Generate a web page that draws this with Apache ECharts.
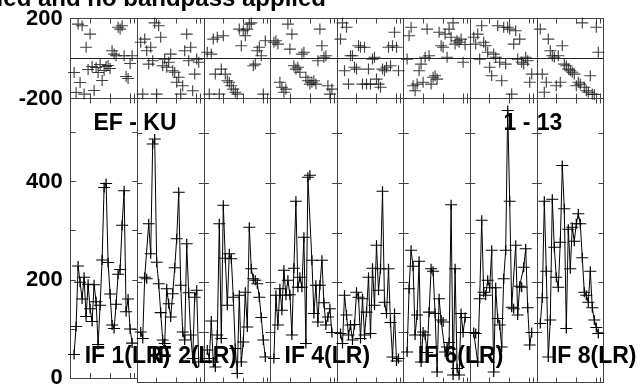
<!DOCTYPE html>
<html>
<head>
<meta charset="utf-8">
<script src="https://cdn.jsdelivr.net/npm/echarts@6/dist/echarts.min.js"></script>
<style>
  html, body { margin: 0; padding: 0; background: #fff; }
  #chart { width: 640px; height: 389px; }
</style>
</head>
<body>
<div id="chart"></div>
<script>
// channels plotted in every IF
const channels = [2, 3, 4, 5, 6, 7, 8, 9, 10, 11, 12, 13, 14, 15, 16, 17, 18, 19, 20, 21, 22, 23, 24, 25, 26, 27, 28, 29, 30, 31];
const ifNames = ['IF 1(LR)', 'IF 2(LR)', '', 'IF 4(LR)', '', 'IF 6(LR)', '', 'IF 8(LR)'];
const channelTicks = [10, 20, 30, 32];
const phaseLabels = [-200, 200];
const ampTicks = [0, 100, 200, 300, 400, 500];
const ampLabels = [0, 200, 400];

// amplitude per IF
const ampIF1 = [48, 105, 228, 195, 161, 205, 125, 191, 141, 115, 190, 155, 68, 148, 240, 388, 396, 235, 171, 108, 101, 150, 211, 221, 311, 381, 135, 161, 100, 71];
const ampIF2 = [101, 88, 211, 208, 318, 258, 478, 488, 241, 198, 140, 85, 78, 188, 158, 131, 178, 230, 288, 381, 195, 101, 85, 278, 180, 95, 48, 171, 185, 41];
const ampIF3 = [65, 48, 123, 41, 31, 95, 318, 88, 355, 249, 155, 258, 248, 171, 68, 18, 175, 41, 81, 181, 111, 311, 228, 208, 205, 198, 171, 130, 85, 51];
const ampIF4 = [48, 175, 115, 188, 145, 225, 175, 205, 176, 95, 229, 363, 191, 211, 191, 291, 78, 411, 415, 245, 138, 195, 121, 195, 245, 160, 115, 131, 148, 100];
const ampIF5 = [98, 78, 175, 135, 95, 115, 85, 116, 181, 171, 88, 168, 95, 141, 211, 98, 229, 155, 275, 185, 228, 383, 161, 138, 228, 120, 51, 138, 43, 48];
const ampIF6 = [61, 188, 265, 233, 95, 135, 243, 41, 101, 95, 60, 141, 228, 223, 138, 21, 168, 125, 121, 61, 71, 80, 356, 15, 228, 28, 15, 138, 100, 130];
const ampIF7 = [100, 98, 41, 168, 325, 181, 175, 205, 190, 265, 21, 190, 128, 115, 71, 208, 265, 545, 363, 151, 148, 275, 135, 193, 191, 231, 268, 150, 75, 100];
const ampIF8 = [118, 170, 363, 223, 51, 125, 367, 271, 211, 191, 281, 435, 348, 108, 307, 228, 311, 283, 318, 338, 318, 250, 181, 175, 161, 223, 150, 125, 110, 98];

// phase per IF (degrees)
const phIF1 = [-70, -170, 172, -120, 164, -178, 56, -55, 122, -40, -160, -45, -70, -30, -110, -60, -40, -35, -50, 39, 22, 14, 156, 147, 164, 14, -90, -100, -25, 14];
const phIF2 = [81, -178, 97, 39, -28, 56, -11, 178, -178, 164, 106, -36, -3, -44, -19, 22, -61, -69, -119, -94, -178, -136, 39, 122, -11, 56, -161, -78, -3, -19];
const phIF3 = [31, -178, 22, 97, -78, 106, -178, -53, 114, -78, -111, -119, -136, -153, -169, -178, 147, 64, 139, 114, 147, 172, 178, -36, -28, 39, 56, 14, -178, 89];
const phIF4 = [81, 89, 72, -119, -144, -169, -153, 172, 47, 122, -36, -53, -44, -69, 22, 31, -94, -111, -128, -119, -111, -128, -11, 147, 64, 6, 14, -136, -178, -153];
const phIF5 = [97, 178, -61, 156, -128, 14, 14, -44, -53, 64, 56, -128, 56, -128, -53, -128, -3, 6, -103, -128, -144, -53, -61, -44, 56, -36, 64, 131, 56, -61];
const phIF6 = [-3, 114, 156, -136, -161, -128, -61, -28, -119, 6, 147, 14, -128, -94, -86, -103, 131, 64, 56, 122, 6, 147, 106, 178, 72, 89, 81, 97, -19, 70];
const phIF7 = [106, 72, 122, -3, 164, 81, 64, 31, -44, -86, 22, 6, 164, -19, -111, 156, -28, 156, 147, -178, 72, 139, -3, 97, -19, -28, 6, -11, -119, -78];
const phIF8 = [147, -78, -169, -119, 97, 39, 14, 6, -136, 14, -119, 64, -28, -36, -53, -61, -69, -78, -136, -119, -128, 178, -144, -161, -169, -86, -178, -180, 156, 31];

const ampAll = [ampIF1, ampIF2, ampIF3, ampIF4, ampIF5, ampIF6, ampIF7, ampIF8];
const phAll = [phIF1, phIF2, phIF3, phIF4, phIF5, phIF6, phIF7, phIF8];

// layout
const plotLeft = 70.7, panelW = 66.6;
const phaseTop = 18.5, phaseH = 80;
const ampTop = 98.5, ampH = 284;
const frameColor = '#444';
const labelFont = { fontFamily: 'Liberation Sans', fontWeight: 'bold', fontSize: 22, color: '#000' };
const crossSymbol = 'path://M0,5L10,5M5,0L5,10';

const grids = [], xAxes = [], yAxes = [], series = [];

const xAx = (gridIndex, position) => ({
  type: 'value', gridIndex, position, min: 0.3, max: 33.6,
  axisLine: { show: true, onZero: false, lineStyle: { color: frameColor, width: 1 } },
  axisTick: { show: true, inside: true, length: 5, customValues: channelTicks, lineStyle: { color: frameColor } },
  axisLabel: { show: false },
  splitLine: { show: false }
});

for (let i = 0; i < 8; i++) {
  const left = plotLeft + i * panelW;
  // phase grid (2i) and amplitude grid (2i+1)
  grids.push({ left, top: phaseTop, width: panelW, height: phaseH });
  grids.push({ left, top: ampTop, width: panelW, height: ampH });

  const gp = 2 * i, ga = 2 * i + 1;
  xAxes.push(xAx(gp, 'bottom'), xAx(gp, 'top'), xAx(ga, 'bottom'), xAx(ga, 'top'));

  const phaseY = (position, labels) => ({
    type: 'value', gridIndex: gp, position, min: -200, max: 200, interval: 200,
    axisLine: { show: true, onZero: false, lineStyle: { color: frameColor, width: 1 } },
    axisTick: { show: false },
    axisLabel: labels ? Object.assign({
      show: true, margin: 8, showMinLabel: true, showMaxLabel: true,
      formatter: v => phaseLabels.includes(v) ? String(v) : ''
    }, labelFont) : { show: false },
    splitLine: { show: true, lineStyle: { color: '#222', width: 1 } }
  });
  const ampY = (position, labels) => ({
    type: 'value', gridIndex: ga, position, min: 0, max: 569, interval: 100,
    axisLine: { show: true, onZero: false, lineStyle: { color: frameColor, width: 1 } },
    axisTick: { show: true, inside: true, length: 5, customValues: ampTicks, lineStyle: { color: frameColor } },
    axisLabel: labels ? Object.assign({
      show: true, margin: 8,
      formatter: v => ampLabels.includes(v) ? String(v) : ''
    }, labelFont) : { show: false },
    splitLine: { show: false }
  });
  yAxes.push(phaseY('left', i === 0), phaseY('right', false), ampY('left', i === 0), ampY('right', false));

  series.push({
    type: 'scatter',
    xAxisIndex: 4 * i, yAxisIndex: 2 * gp,
    data: channels.map((c, k) => [c, phAll[i][k]]),
    symbol: crossSymbol, symbolSize: [12, 11],
    itemStyle: { color: '#000', borderColor: '#111', borderWidth: 1.1 },
    silent: true
  });
  series.push({
    type: 'line',
    xAxisIndex: 4 * i + 2, yAxisIndex: 2 * ga,
    data: channels.map((c, k) => [c, ampAll[i][k]]),
    symbol: crossSymbol, symbolSize: [12, 10], showSymbol: true,
    lineStyle: { color: '#000', width: 1 },
    itemStyle: { color: '#000', borderColor: '#000', borderWidth: 1.1 },
    silent: true
  });
}

const textEl = (text, x, y, size, align) => ({
  type: 'text', x, y, z: 100,
  style: {
    text, fill: '#000',
    font: 'bold ' + size + 'px "Liberation Sans"',
    textAlign: align, align, textVerticalAlign: 'middle', verticalAlign: 'middle'
  }
});

const graphic = [
  textEl('Calibration applied and no bandpass applied', 326, -1, 24, 'right'),
  textEl('EF - KU', 93.5, 124, 23, 'left'),
  textEl('1 - 13', 503.5, 124, 23, 'left')
];
ifNames.forEach((name, i) => {
  if (name) graphic.push(textEl(name, plotLeft + i * panelW + 14, 356.5, 23, 'left'));
});

const chart = echarts.init(document.getElementById('chart'));
chart.setOption({
  animation: false,
  backgroundColor: '#fff',
  grid: grids,
  xAxis: xAxes,
  yAxis: yAxes,
  series,
  graphic
});
</script>
</body>
</html>
